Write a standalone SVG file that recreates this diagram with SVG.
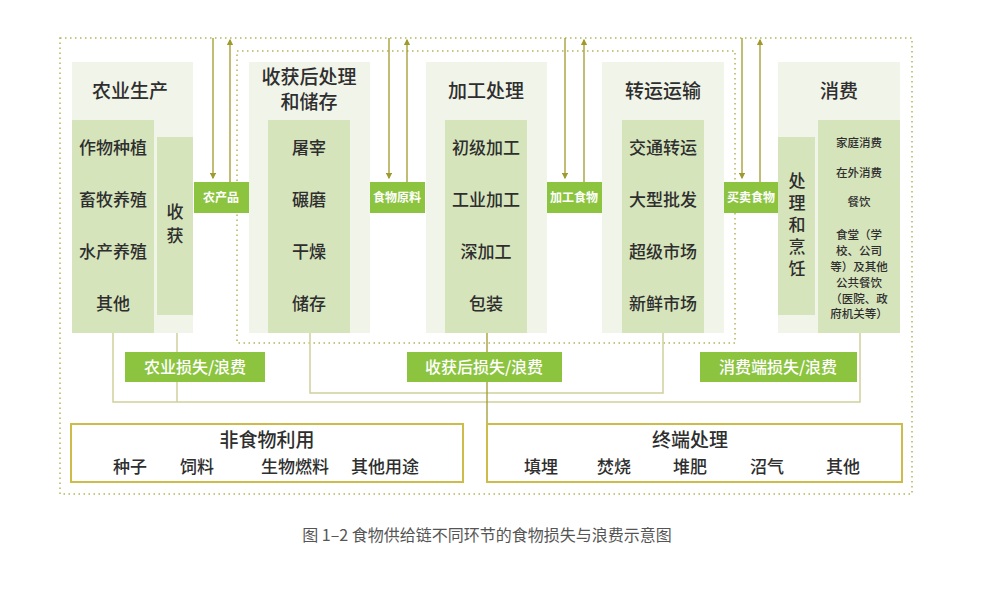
<svg xmlns="http://www.w3.org/2000/svg" width="1000" height="590" viewBox="0 0 1000 590">
<style>
text{font-family:"Noto Sans CJK SC","Noto Sans",sans-serif;fill:#2e2e2e;text-anchor:middle;font-weight:500}
.outer{fill:#f1f4e9}
.inner{fill:#d6e4bc}
.lbl{fill:#8cc43f}
.lt{fill:#fff;font-size:12px;font-weight:bold}
.lt2{fill:#fff;font-size:16px}
.t{font-size:19px}
.i{font-size:17px}
.v{font-size:17px;writing-mode:vertical-rl;text-anchor:start}
.s{font-size:11.5px}
.ln{stroke:#cfcf9c;stroke-width:1.5;fill:none}
.ar{stroke:#a09a2c;stroke-width:1.3;fill:none}
.dot{stroke:#b5b55a;stroke-width:1.5;stroke-dasharray:1.5 3.5;fill:none}
.box{fill:#fff;stroke:#cdbb4a;stroke-width:2}
</style>
<defs>
<marker id="ah" markerWidth="5" markerHeight="5" refX="4" refY="2.5" orient="auto"><path d="M0,0 L5,2.5 L0,5z" fill="#a09a2c"/></marker>
</defs>
<rect width="1000" height="590" fill="#fff"/>
<rect class="dot" x="60" y="38" width="852" height="456"/>
<rect class="dot" x="237" y="51" width="498" height="292"/>
<g id="connectors">
<path class="ln" d="M113,333 V402 H860 V333"/>
<path class="ln" d="M177,315 V402"/>
<path class="ln" d="M310,333 V393 H663 V333"/>
<path class="ar" d="M487,333 V424"/>
<path class="ar" d="M213,38 V178" marker-end="url(#ah)"/>
<path class="ar" d="M230,182 V40" marker-end="url(#ah)"/>
<path class="ar" d="M389,38 V178" marker-end="url(#ah)"/>
<path class="ar" d="M407,182 V40" marker-end="url(#ah)"/>
<path class="ar" d="M565,38 V178" marker-end="url(#ah)"/>
<path class="ar" d="M584,182 V40" marker-end="url(#ah)"/>
<path class="ar" d="M742,38 V178" marker-end="url(#ah)"/>
<path class="ar" d="M760,182 V40" marker-end="url(#ah)"/>
</g>
<g id="agri">
<rect class="outer" x="72" y="62" width="121" height="271"/>
<rect class="inner" x="72" y="120" width="82" height="213"/>
<rect class="inner" x="157" y="137" width="36" height="178"/>
<text class="t" x="130" y="98">农业生产</text>
<text class="i" x="113" y="154">作物种植</text>
<text class="i" x="113" y="206">畜牧养殖</text>
<text class="i" x="113" y="258">水产养殖</text>
<text class="i" x="113" y="310">其他</text>
<text class="v" x="175" y="203" style="letter-spacing:7px">收获</text>
</g>
<g id="post">
<rect class="outer" x="249" y="62" width="121" height="271"/>
<rect class="inner" x="268" y="120" width="82" height="213"/>
<text class="t" x="309" y="84">收获后处理</text>
<text class="t" x="309" y="109">和储存</text>
<text class="i" x="309" y="154">屠宰</text>
<text class="i" x="309" y="206">碾磨</text>
<text class="i" x="309" y="258">干燥</text>
<text class="i" x="309" y="310">储存</text>
</g>
<g id="proc">
<rect class="outer" x="426" y="62" width="121" height="271"/>
<rect class="inner" x="445" y="120" width="82" height="213"/>
<text class="t" x="486" y="98">加工处理</text>
<text class="i" x="486" y="154">初级加工</text>
<text class="i" x="486" y="206">工业加工</text>
<text class="i" x="486" y="258">深加工</text>
<text class="i" x="486" y="310">包装</text>
</g>
<g id="trans">
<rect class="outer" x="602" y="62" width="122" height="271"/>
<rect class="inner" x="622" y="120" width="82" height="213"/>
<text class="t" x="663" y="98">转运运输</text>
<text class="i" x="663" y="154">交通转运</text>
<text class="i" x="663" y="206">大型批发</text>
<text class="i" x="663" y="258">超级市场</text>
<text class="i" x="663" y="310">新鲜市场</text>
</g>
<g id="cons">
<rect class="outer" x="778" y="62" width="122" height="271"/>
<rect class="inner" x="778" y="137" width="37" height="178"/>
<rect class="inner" x="818" y="120" width="82" height="213"/>
<text class="t" x="839" y="98">消费</text>
<text class="v" x="797" y="172" style="letter-spacing:5px">处理和烹饪</text>
<text class="s" x="859" y="147">家庭消费</text>
<text class="s" x="859" y="177">在外消费</text>
<text class="s" x="859" y="206">餐饮</text>
<text class="s" x="859" y="239">食堂（学</text>
<text class="s" x="859" y="255">校、公司</text>
<text class="s" x="859" y="271">等）及其他</text>
<text class="s" x="859" y="287">公共餐饮</text>
<text class="s" x="859" y="303">（医院、政</text>
<text class="s" x="859" y="318">府机关等）</text>
</g>
<g id="flows">
<rect class="lbl" x="194" y="182" width="55" height="31"/>
<text class="lt" x="221" y="202">农产品</text>
<rect class="lbl" x="370" y="182" width="55" height="31"/>
<text class="lt" x="397" y="202">食物原料</text>
<rect class="lbl" x="547" y="182" width="55" height="31"/>
<text class="lt" x="574" y="202">加工食物</text>
<rect class="lbl" x="724" y="182" width="54" height="31"/>
<text class="lt" x="751" y="202">买卖食物</text>
</g>
<g id="losses">
<rect class="lbl" x="125" y="352" width="140" height="30"/>
<text class="lt2" x="195" y="373">农业损失/浪费</text>
<rect class="lbl" x="407" y="352" width="155" height="30"/>
<text class="lt2" x="484" y="373">收获后损失/浪费</text>
<rect class="lbl" x="700" y="352" width="157" height="30"/>
<text class="lt2" x="778" y="373">消费端损失/浪费</text>
</g>
<g id="nonfood">
<rect class="box" x="71" y="424" width="392" height="58"/>
<text class="t" x="267" y="447">非食物利用</text>
<text class="i" x="130" y="473">种子</text>
<text class="i" x="197" y="473">饲料</text>
<text class="i" x="295" y="473">生物燃料</text>
<text class="i" x="385" y="473">其他用途</text>
</g>
<g id="endtreat">
<rect class="box" x="487" y="424" width="415" height="58"/>
<text class="t" x="690" y="447">终端处理</text>
<text class="i" x="541" y="473">填埋</text>
<text class="i" x="614" y="473">焚烧</text>
<text class="i" x="690" y="473">堆肥</text>
<text class="i" x="767" y="473">沼气</text>
<text class="i" x="843" y="473">其他</text>
</g>
<text x="487" y="541" style="font-size:16px;fill:#555;font-weight:400">图 1–2 食物供给链不同环节的食物损失与浪费示意图</text>
</svg>
